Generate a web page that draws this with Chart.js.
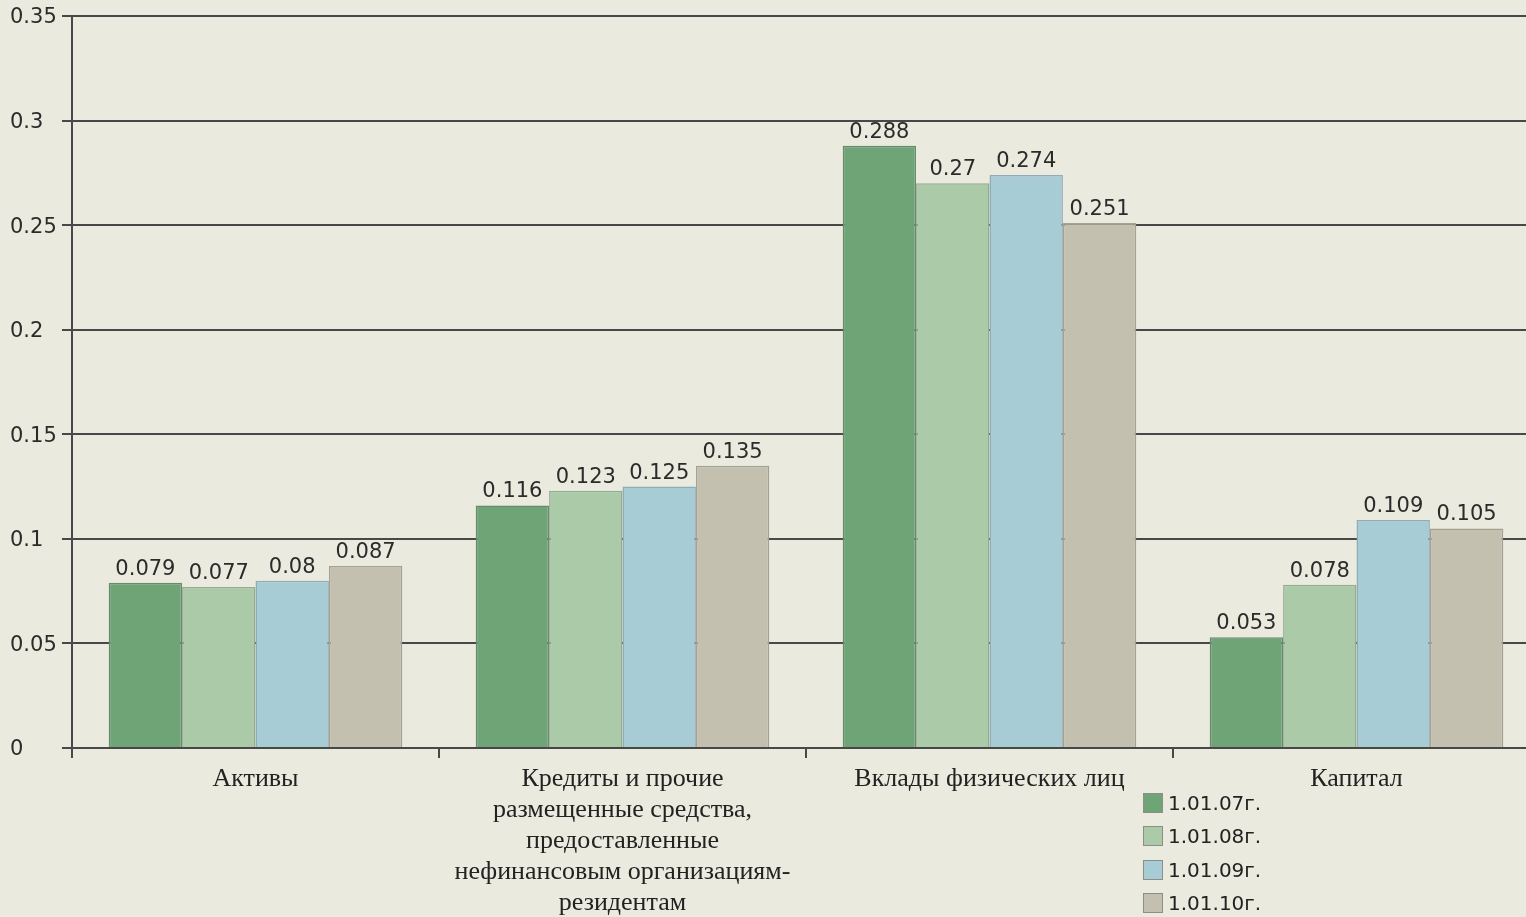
<!DOCTYPE html>
<html>
<head>
<meta charset="utf-8">
<script src="https://cdn.jsdelivr.net/npm/chart.js@4.4.1/dist/chart.umd.min.js"></script>
<style>
	html, body { margin: 0; padding: 0; background: #eaeade; overflow: hidden; }
	#wrap { position: relative; width: 1526px; height: 917px; overflow: hidden; }
	#chart { position: absolute; left: 0; top: 0; }
	#legend { position: absolute; left: 1143px; top: 786px; font: 20px 'DejaVu Sans', sans-serif; color: #222; }
	.item { display: flex; align-items: center; height: 33.5px; }
	.box { width: 20px; height: 20px; border: 1px solid #8d8f86; margin-right: 5px; box-sizing: border-box; }
</style>
</head>
<body>
<div id="wrap">
	<canvas id="chart" width="1540" height="917"></canvas>
	<div id="legend"></div>
</div>
<script>
var categories = [
	'Активы',
	['Кредиты и прочие', 'размещенные средства,', 'предоставленные', 'нефинансовым организациям-', 'резидентам'],
	'Вклады физических лиц',
	'Капитал'
];
var seriesNames = ['1.01.07г.', '1.01.08г.', '1.01.09г.', '1.01.10г.'];
var values07 = [0.079, 0.116, 0.288, 0.053];
var values08 = [0.077, 0.123, 0.27, 0.078];
var values09 = [0.08, 0.125, 0.274, 0.109];
var values10 = [0.087, 0.135, 0.251, 0.105];
var yTicks = [0, 0.05, 0.1, 0.15, 0.2, 0.25, 0.3, 0.35];

var fills = ['#6fa477', '#abcaa8', '#a8ccd6', '#c3c0b0'];
var borders = ['#6a8a6e', '#93ac92', '#8fadb6', '#a3a194'];
var seriesValues = [values07, values08, values09, values10];

var gridColor = '#484848';

// value labels above bars
var barValues = {
	id: 'barValues',
	afterDatasetsDraw: function(chart) {
		var ctx = chart.ctx;
		ctx.save();
		ctx.font = '21px "DejaVu Sans", sans-serif';
		ctx.fillStyle = '#2b2b2b';
		ctx.textAlign = 'center';
		ctx.textBaseline = 'alphabetic';
		chart.data.datasets.forEach(function(ds, i) {
			chart.getDatasetMeta(i).data.forEach(function(bar, j) {
				ctx.fillText(String(ds.data[j]), bar.x, bar.y - 8);
			});
		});
		ctx.restore();
	}
};

var ctx = document.getElementById('chart').getContext('2d');
var myChart = new Chart(ctx, {
	type: 'bar',
	data: {
		labels: categories,
		datasets: seriesNames.map(function(name, i) {
			return {
				label: name,
				data: seriesValues[i],
				backgroundColor: fills[i],
				borderColor: borders[i],
				borderWidth: 1.5,
				categoryPercentage: 0.8,
				barPercentage: 1
			};
		})
	},
	options: {
		responsive: false,
		animation: false,
		devicePixelRatio: 1,
		layout: { padding: { left: 10, top: 16, right: 0, bottom: 0 } },
		plugins: {
			legend: { display: false },
			tooltip: { enabled: false }
		},
		scales: {
			x: {
				grid: {
					offset: true,
					drawOnChartArea: false,
					drawTicks: true,
					tickLength: 10,
					color: gridColor,
					lineWidth: 2
				},
				border: { display: true, color: gridColor, width: 2 },
				ticks: {
					font: { family: '"Liberation Serif", serif', size: 26, lineHeight: '31px' },
					color: '#222',
					padding: 6,
					maxRotation: 0,
					autoSkip: false
				},
				afterFit: function(scale) { scale.height = 169; }
			},
			y: {
				min: 0,
				max: 0.35,
				afterBuildTicks: function(scale) {
					scale.ticks = yTicks.map(function(v) { return { value: v }; });
				},
				grid: {
					color: gridColor,
					lineWidth: 2,
					tickLength: 10
				},
				border: { display: true, color: gridColor, width: 2 },
				ticks: {
					crossAlign: 'far',
					labelOffset: 2,
					font: { family: '"DejaVu Sans", sans-serif', size: 21 },
					color: '#2b2b2b',
					callback: function(v) { return String(+v.toFixed(2)); }
				},
				afterFit: function(scale) { scale.width = 62; }
			}
		}
	},
	plugins: [barValues]
});

// legend as html
var legend = document.getElementById('legend');
seriesNames.forEach(function(name, i) {
	var item = document.createElement('div');
	item.className = 'item';
	var box = document.createElement('span');
	box.className = 'box';
	box.style.background = fills[i];
	item.appendChild(box);
	item.appendChild(document.createTextNode(name));
	legend.appendChild(item);
});
</script>
</body>
</html>
